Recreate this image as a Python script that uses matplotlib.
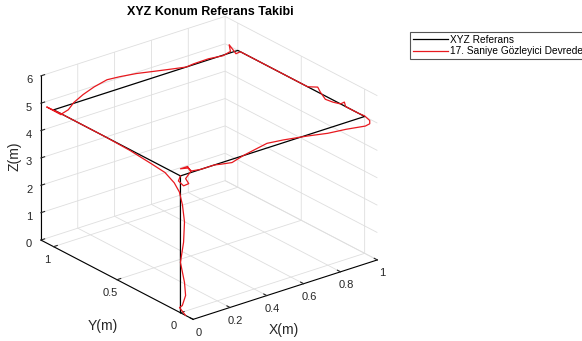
import matplotlib
matplotlib.use('Agg')
import matplotlib.pyplot as plt

# Reference trajectory (black)
ref_x = [0, 0, 0, 1, 1, 0]
ref_y = [0, 0, 1, 1, 0, 0]
ref_z = [0, 5, 5, 5, 5, 5]

# Observer-tracked trajectory (red)
obs_x = [0.00, -0.005, 0.01, 0.028, 0.022, 0.0, 0.017, 0.022, 0.011, 0.0, 0.0, 0.0, 0.0,
         0.0, 0.0, 0.0, 0.0, -0.01, 0.02, 0.04, 0.08, 0.11, 0.16, 0.22, 0.29, 0.36, 0.45,
         0.54, 0.64, 0.72, 0.76, 0.84, 0.92, 0.96, 0.96, 0.99, 1.0,
         1.0, 1.0, 1.0, 1.0, 1.0, 1.0, 1.0, 1.0, 1.0, 1.0, 1.0, 1.0, 1.0, 1.0, 0.99,
         0.90, 0.80, 0.69, 0.56, 0.47, 0.40, 0.34, 0.28, 0.22, 0.185, 0.11, 0.06,
         0.04, 0.0, 0.039, 0.056, 0.028, 0.045, 0.017, -0.011, 0.0]
obs_y = [-0.04, 0.0, 0.0, 0.0, 0.0, 0.0, 0.0, 0.0, 0.0, 0.008, 0.049, 0.122, 0.228,
         0.4, 0.6, 0.8, 0.95, 1.04, 0.97, 1.0, 1.0, 1.0, 1.0, 1.0, 1.0, 1.0, 1.0,
         1.0, 1.0, 1.0, 1.0, 1.0, 1.0, 1.0, 1.01, 1.0, 0.98,
         0.77, 0.55, 0.45, 0.37, 0.35, 0.31, 0.25, 0.19, 0.16, 0.15, 0.05, 0.0, -0.04, -0.04, -0.02,
         0.0, 0.0, 0.0, 0.0, 0.0, 0.0, 0.0, 0.0, 0.0, 0.0, 0.0, 0.0,
         0.0, 0.0, 0.0, 0.0, 0.0, 0.0, 0.0, 0.0, 0.0]
obs_z = [0.0, 0.2, 0.24, 0.57, 1.06, 1.84, 2.54, 3.27, 3.91, 4.39, 4.63, 4.83, 4.89,
         4.97, 5.0, 5.0, 5.0, 5.03, 4.85, 4.75, 4.83, 5.03, 5.21, 5.36, 5.47, 5.43, 5.35,
         5.23, 5.1, 5.0, 5.03, 5.04, 4.98, 5.05, 5.27, 4.9, 5.0,
         5.0, 5.0, 5.0, 5.18, 5.05, 4.88, 4.92, 5.0, 5.14, 5.0, 5.0, 5.02, 4.95, 4.83, 4.72,
         4.75, 4.82, 4.96, 5.1, 5.17, 5.08, 5.0, 4.88, 4.95, 5.0, 5.0, 5.05,
         5.2, 5.26, 5.26, 5.04, 4.84, 4.62, 4.6, 4.84, 5.0]

x_ticks = [0, 0.2, 0.4, 0.6, 0.8, 1]
x_ticklabels = ['0', '0.2', '0.4', '0.6', '0.8', '1']
y_ticks = [0, 0.5, 1]
y_ticklabels = ['0', '0.5', '1']
z_ticks = [0, 1, 2, 3, 4, 5, 6]
z_ticklabels = ['0', '1', '2', '3', '4', '5', '6']

plt.rcParams['font.family'] = ['Liberation Sans', 'DejaVu Sans']

fig = plt.figure(figsize=(5.82, 3.41), dpi=100)
ax = fig.add_axes([-5 / 582, -2 / 341, 0.72, 1.0], projection='3d')
ax.set_proj_type('ortho')
ax.view_init(elev=24.2, azim=-128.2)
ax.set_box_aspect((1, 1.05, 0.768), zoom=1.095)

ax.plot(ref_x, ref_y, ref_z, color='black', lw=0.9, label='XYZ Referans')
ax.plot(obs_x, obs_y, obs_z, color='#e8191f', lw=0.9, label='17. Saniye Gözleyici Devrede')

ax.set_xlim(0, 1, view_margin=0)
ax.set_ylim(-0.1, 1.1, view_margin=0)
ax.set_zlim(0, 6, view_margin=0)
ax.set_xticks(x_ticks)
ax.set_xticklabels(x_ticklabels)
ax.set_yticks(y_ticks)
ax.set_yticklabels(y_ticklabels)
ax.set_zticks(z_ticks)
ax.set_zticklabels(z_ticklabels)

for axis in (ax.xaxis, ax.yaxis, ax.zaxis):
    axis._axinfo['grid'].update(color='#dedede', linewidth=0.6)
    axis._axinfo['tick'].update(inward_factor=0.0, outward_factor=0.25)
    axis._axinfo['axisline'].update(color='#262626', linewidth=0.8)
    axis.set_pane_color((1, 1, 1, 0))
    axis.pane.set_edgecolor('#dedede')
    axis.set_rotate_label(False)
ax.tick_params(labelsize=8, colors='#262626', pad=-3.5)

ax.set_zlabel('Z(m)', fontsize=10, color='#262626', rotation=90, labelpad=-11)
# X and Y axis titles placed where the reference shows them
fig.text(284 / 582, 1 - 330 / 341, 'X(m)', fontsize=10, color='#262626',
         ha='center', va='center')
fig.text(103 / 582, 1 - 326 / 341, 'Y(m)', fontsize=10, color='#262626',
         ha='center', va='center')

fig.suptitle('XYZ Konum Referans Takibi', x=210 / 582, y=1 - 6 / 341,
             fontsize=9, fontweight='bold', va='top')

leg = fig.legend(loc='upper left', bbox_to_anchor=(410 / 582, 1 - 32 / 341),
                 fontsize=7.3, frameon=True, fancybox=False, framealpha=1,
                 edgecolor='#555555', borderpad=0.3, handlelength=3.4,
                 handletextpad=0.2, labelspacing=0.1, borderaxespad=0)
leg.get_frame().set_linewidth(0.8)

fig.savefig('out.png', dpi=100)
